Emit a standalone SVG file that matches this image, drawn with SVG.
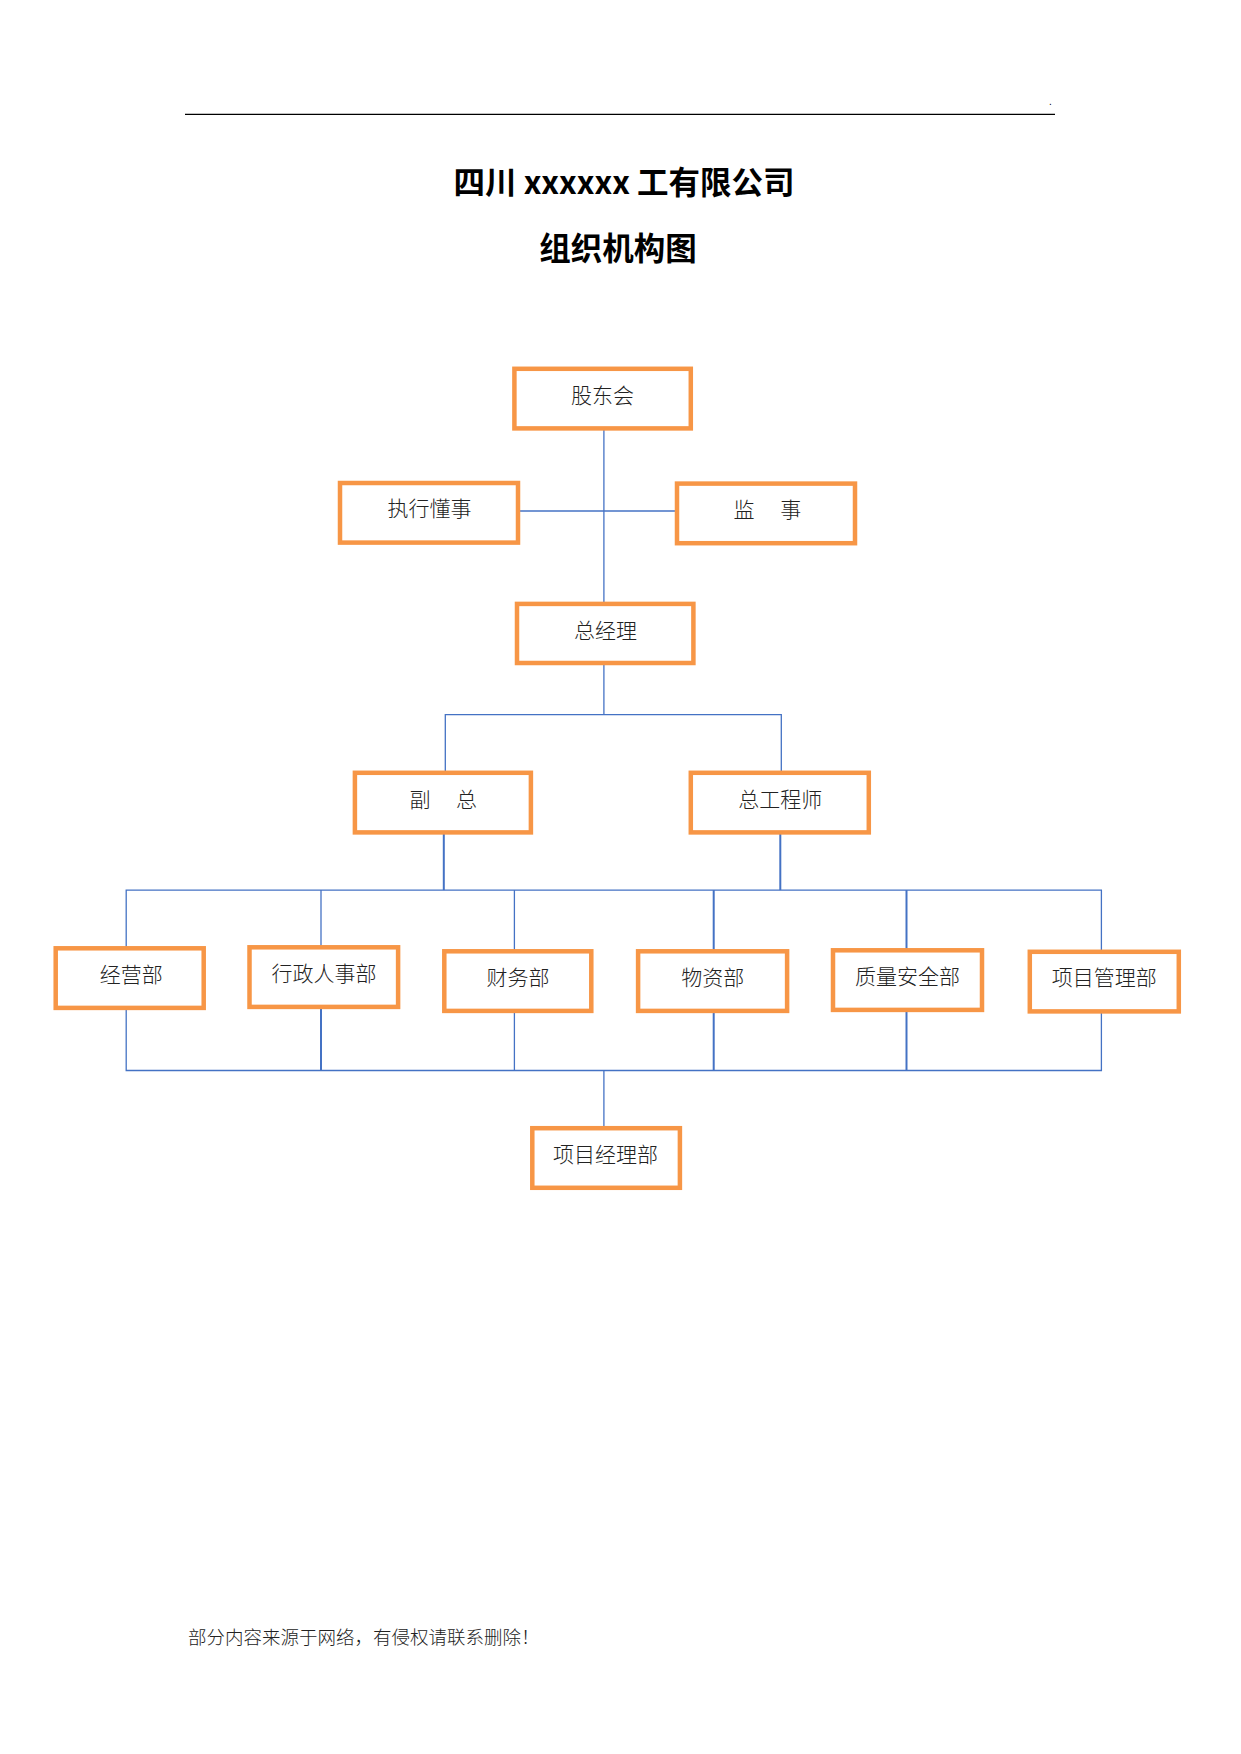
<svg xmlns="http://www.w3.org/2000/svg" width="1241" height="1754" viewBox="0 0 1241 1754">
<style>
.box{fill:#fff;stroke:#F79646;stroke-width:4.5}
.lbl{font-family:"Noto Sans CJK SC","Noto Sans",sans-serif;font-size:21px;fill:#222;text-anchor:middle;font-weight:300}
.ttl{font-family:"Noto Sans CJK SC","Liberation Sans",sans-serif;font-size:31.5px;fill:#000;text-anchor:middle;font-weight:bold}
.ln{stroke:#4472C4;stroke-width:1.3;fill:none}
.lnb{stroke:#4472C4;stroke-width:2;fill:none}
</style>
<rect width="1241" height="1754" fill="#fff"/>
<line x1="185" y1="114.3" x2="1055" y2="114.3" stroke="#000" stroke-width="1.2"/>
<text x="1049" y="105" font-family="Liberation Sans,sans-serif" font-size="10" fill="#000">.</text>
<text class="ttl" x="624" y="194">四川 xxxxxx 工有限公司</text>
<text class="ttl" x="618" y="259.5">组织机构图</text>

<g id="connectors">
<path class="ln" d="M603.9 428.4V603.9"/>
<path class="ln" d="M517.9 511H679"/>
<path class="ln" d="M603.9 663V714.7"/>
<path class="ln" d="M445.3 772.3V714.7H781.3V772.3"/>
<path class="lnb" d="M443.8 833V890.1"/>
<path class="lnb" d="M780.3 833V890.1"/>
<path class="ln" d="M126.2 948.3V890.1H1101.4V951.3"/>
<path class="ln" d="M321 890.1V947.3"/>
<path class="ln" d="M514.4 890.1V951.3"/>
<path class="lnb" d="M713.7 890.1V951.3"/>
<path class="lnb" d="M906.5 890.1V950.3"/>
<path class="ln" d="M126.2 1008V1070.5H1101.4V1011.9"/>
<path class="lnb" d="M321 1008V1070.5"/>
<path class="ln" d="M514.4 1011V1070.5"/>
<path class="lnb" d="M713.7 1011V1070.5"/>
<path class="lnb" d="M906.5 1010V1070.5"/>
<path class="ln" d="M603.9 1070.5V1128.2"/>
</g>

<g id="n-gudonghui"><rect class="box" x="514.4" y="368.8" width="176.4" height="59.6"/><text class="lbl" x="602.4" y="402.6">股东会</text></g>
<g id="n-zhixing"><rect class="box" x="340" y="483" width="178" height="59.6"/><text class="lbl" x="429.4" y="516">执行懂事</text></g>
<g id="n-jianshi"><rect class="box" x="677" y="483.6" width="178" height="59.6"/><text class="lbl" x="767.4" y="517" xml:space="preserve">监　 事</text></g>
<g id="n-zongjingli"><rect class="box" x="517" y="603.9" width="176.4" height="59.1"/><text class="lbl" x="605.4" y="638">总经理</text></g>
<g id="n-fuzong"><rect class="box" x="354.9" y="772.8" width="176" height="59.6"/><text class="lbl" x="443.3" y="807" xml:space="preserve">副　 总</text></g>
<g id="n-zonggong"><rect class="box" x="690.8" y="772.8" width="178" height="59.6"/><text class="lbl" x="780.3" y="807">总工程师</text></g>
<g id="n-jingying"><rect class="box" x="55.7" y="948.3" width="148" height="59.6"/><text class="lbl" x="131.2" y="982">经营部</text></g>
<g id="n-xingzheng"><rect class="box" x="249.5" y="947.3" width="148.6" height="59.6"/><text class="lbl" x="324" y="981">行政人事部</text></g>
<g id="n-caiwu"><rect class="box" x="444.3" y="951.3" width="147" height="59.6"/><text class="lbl" x="517.9" y="985">财务部</text></g>
<g id="n-wuzi"><rect class="box" x="638.1" y="951.3" width="149" height="59.6"/><text class="lbl" x="712.7" y="985">物资部</text></g>
<g id="n-zhiliang"><rect class="box" x="833" y="950.3" width="149" height="59.6"/><text class="lbl" x="907.5" y="984">质量安全部</text></g>
<g id="n-xiangmuguanli"><rect class="box" x="1029.8" y="951.8" width="149" height="59.6"/><text class="lbl" x="1104.3" y="985">项目管理部</text></g>
<g id="n-xiangmujingli"><rect class="box" x="532.3" y="1128.2" width="147.6" height="59.6"/><text class="lbl" x="605.4" y="1162">项目经理部</text></g>

<text x="188" y="1644" font-family="Noto Sans CJK SC,sans-serif" font-size="18.5" font-weight="300" fill="#222">部分内容来源于网络，有侵权请联系删除！</text>
</svg>
